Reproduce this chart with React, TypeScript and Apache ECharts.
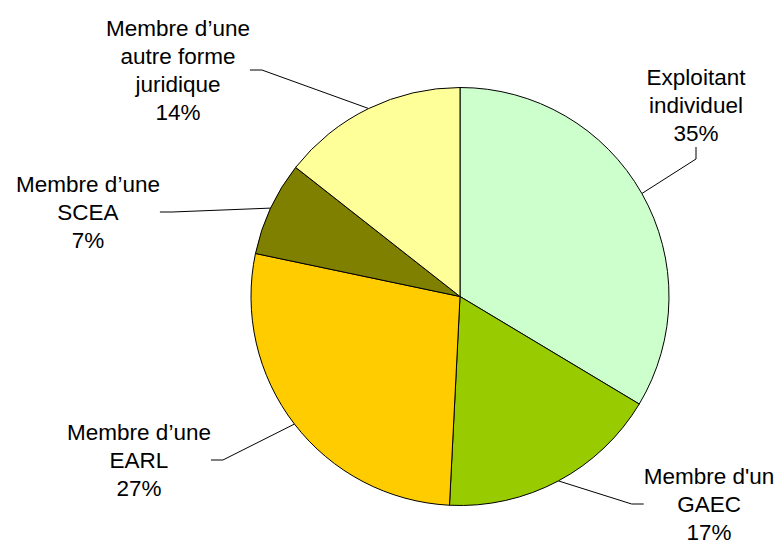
import React, { useEffect, useRef } from "react";
import * as echarts from "echarts";

const categories = [
  "Exploitant\nindividuel",
  "Membre d'un\nGAEC",
  "Membre d\u2019une\nEARL",
  "Membre d\u2019une\nSCEA",
  "Membre d\u2019une\nautre forme\njuridique",
];
// slice shares
const shares = [33.6, 17.2, 27.5, 7.3, 14.4];
// percentages printed on the chart
const pctLabels = ["35%", "17%", "27%", "7%", "14%"];
const colors = ["#CCFFCC", "#99CC00", "#FFCC00", "#808000", "#FFFF99"];

const labelCenters: [number, number][] = [
  [696, 105],
  [709, 504],
  [139, 460],
  [88, 212],
  [178, 70],
];

export default function App() {
  const ref = useRef<HTMLDivElement>(null);
  useEffect(() => {
    if (!ref.current) return;
    const chart = echarts.init(ref.current, null, { renderer: "svg" });
    chart.setOption({
      animation: false,
      backgroundColor: "#ffffff",
      series: [
        {
          type: "pie",
          center: [460, 296.5],
          radius: 209,
          startAngle: 90,
          clockwise: true,
          avoidLabelOverlap: false,
          itemStyle: { borderColor: "#000000", borderWidth: 1 },
          label: {
            show: true,
            position: "outside",
            color: "#000000",
            fontFamily: "'Liberation Sans', Arial, sans-serif",
            fontSize: 22.5,
            lineHeight: 28,
            align: "center",
            formatter: (p: any) => `${categories[p.dataIndex]}\n${pctLabels[p.dataIndex]}`,
          },
          labelLine: {
            show: true,
            length: 20,
            length2: 12,
            lineStyle: { color: "#000000", width: 1 },
          },
          labelLayout: (p: any) => {
            const c = labelCenters[p.dataIndex];
            return { x: c[0], y: c[1], align: "center", verticalAlign: "middle" };
          },
          emphasis: { disabled: true },
          data: categories.map((name, i) => ({
            name,
            value: shares[i],
            itemStyle: { color: colors[i] },
          })),
        },
      ],
    });
    return () => chart.dispose();
  }, []);
  return (
    <div
      ref={ref}
      style={{ position: "fixed", left: 0, top: 0, width: 781, height: 545 }}
    />
  );
}
